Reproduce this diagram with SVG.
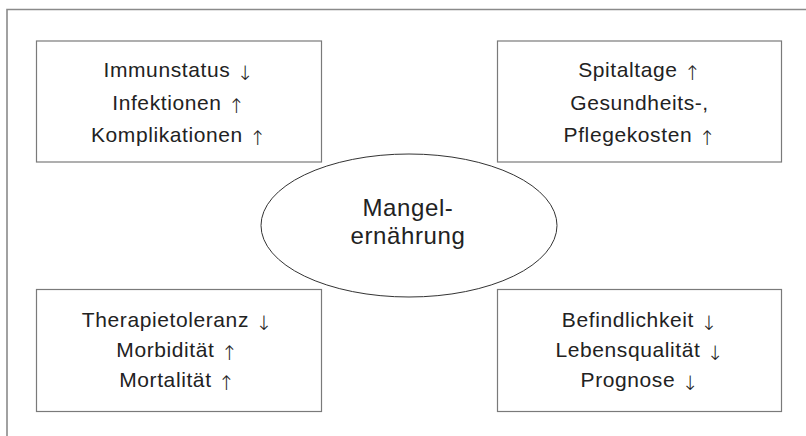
<svg xmlns="http://www.w3.org/2000/svg" width="806" height="436" viewBox="0 0 806 436">
  <style>
    .frame { fill: none; stroke: #8a8a8a; stroke-width: 1.6; }
    .box { fill: #ffffff; stroke: #7a7a7a; stroke-width: 1.2; }
    .ell { fill: #ffffff; stroke: #333333; stroke-width: 1; }
    .t { font-family: "Liberation Sans", Arial, sans-serif; font-size: 21px; fill: #222222; text-anchor: middle; letter-spacing: 0.6px; }
    .c { font-family: "Liberation Sans", Arial, sans-serif; font-size: 24px; fill: #222222; text-anchor: middle; letter-spacing: 0.6px; }
    .a { font-family: "DejaVu Sans", sans-serif; font-weight: 200; font-size: 20px; fill: #222222; letter-spacing: 0; baseline-shift: -3px; }
  </style>
  <rect width="806" height="436" fill="#ffffff"/>
  <g id="frame">
    <path class="frame" d="M7,436 V9.5 H806"/>
  </g>
  <g id="connectors"></g>
  <g id="node-immun">
    <rect class="box" x="36.5" y="41" width="285" height="121"/>
    <text class="t" x="178.5" y="77">Immunstatus <tspan class="a">↓</tspan></text>
    <text class="t" x="178.5" y="110">Infektionen <tspan class="a">↑</tspan></text>
    <text class="t" x="178.5" y="142">Komplikationen <tspan class="a">↑</tspan></text>
  </g>
  <g id="node-kosten">
    <rect class="box" x="497.5" y="41" width="284" height="121"/>
    <text class="t" x="639.5" y="77">Spitaltage <tspan class="a">↑</tspan></text>
    <text class="t" x="639.5" y="110">Gesundheits-,</text>
    <text class="t" x="639.5" y="142">Pflegekosten <tspan class="a">↑</tspan></text>
  </g>
  <g id="node-therapie">
    <rect class="box" x="36.5" y="289.5" width="285" height="122"/>
    <text class="t" x="177" y="327">Therapietoleranz <tspan class="a">↓</tspan></text>
    <text class="t" x="177" y="357">Morbidität <tspan class="a">↑</tspan></text>
    <text class="t" x="177" y="387">Mortalität <tspan class="a">↑</tspan></text>
  </g>
  <g id="node-befinden">
    <rect class="box" x="497.5" y="289.5" width="284" height="122"/>
    <text class="t" x="639.5" y="327">Befindlichkeit <tspan class="a">↓</tspan></text>
    <text class="t" x="639.5" y="357">Lebensqualität <tspan class="a">↓</tspan></text>
    <text class="t" x="639.5" y="387">Prognose <tspan class="a">↓</tspan></text>
  </g>
  <g id="node-mangel">
    <ellipse class="ell" cx="409" cy="225.5" rx="148" ry="71.5"/>
    <text class="c" x="408" y="216">Mangel-</text>
    <text class="c" x="408" y="244">ernährung</text>
  </g>
</svg>
